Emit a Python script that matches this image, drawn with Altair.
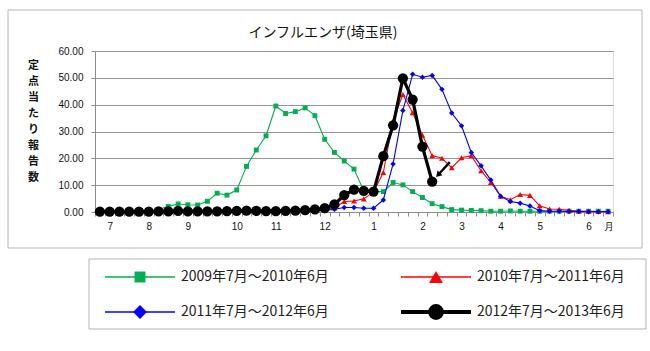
import json
import altair as alt
import pandas as pd

# ---------------- data ----------------
seasons = ["2009年7月～2010年6月", "2010年7月～2011年6月",
           "2011年7月～2012年6月", "2012年7月～2013年6月"]

s2009 = [0.1, 0.1, 0.1, 0.1, 0.2, 0.3, 0.9, 2.1, 3.0, 2.7,
         2.6, 4.0, 7.0, 6.3, 8.2, 17.0, 23.1, 28.4, 39.5, 36.7,
         37.4, 38.8, 35.9, 27.1, 22.2, 19.0, 16.0, 7.8, 7.6, 7.6,
         11.0, 10.1, 7.6, 5.4, 3.1, 2.0, 0.9, 0.7, 0.6, 0.5,
         0.3, 0.3, 0.4, 0.3, 0.3, 0.3, 0.3, 0.3, 0.3, 0.3,
         0.3, 0.3, 0.3]
s2010 = [0.0, 0.0, 0.0, 0.0, 0.0, 0.0, 0.0, 0.1, 0.1, 0.1,
         0.1, 0.1, 0.1, 0.1, 0.1, 0.1, 0.1, 0.2, 0.2, 0.3,
         0.4, 0.5, 0.8, 1.0, 1.5, 3.9, 4.1, 4.9, 7.5, 14.7,
         34.0, 43.8, 37.0, 28.6, 21.0, 20.0, 16.5, 20.2, 21.0, 15.4,
         11.0, 5.9, 4.6, 6.5, 6.2, 2.3, 1.1, 1.0, 0.6, 0.4,
         0.3, 0.2, 0.1]
s2011 = [0.0, 0.0, 0.0, 0.0, 0.0, 0.0, 0.0, 0.0, 0.0, 0.0,
         0.0, 0.0, 0.1, 0.1, 0.1, 0.1, 0.1, 0.1, 0.1, 0.2,
         0.2, 0.3, 0.3, 0.6, 1.0, 1.7, 1.7, 1.4, 1.4, 4.5,
         17.9, 37.8, 51.3, 50.2, 50.9, 45.7, 36.9, 32.1, 22.2, 17.2,
         11.9, 5.9, 3.9, 3.3, 2.2, 0.5, 0.3, 0.3, 0.2, 0.2,
         0.1, 0.1, 0.1]
s2012 = [0.1, 0.1, 0.1, 0.1, 0.1, 0.1, 0.2, 0.2, 0.4, 0.2,
         0.2, 0.2, 0.2, 0.3, 0.4, 0.5, 0.4, 0.3, 0.3, 0.4,
         0.5, 0.7, 1.0, 1.4, 2.8, 6.3, 8.3, 7.9, 7.6, 20.8,
         32.3, 49.8, 41.9, 24.4, 11.3]
series_values = [s2009, s2010, s2011, s2012]

# month label positions (week index) and texts
month_weeks = [1, 5, 9, 14, 18, 23, 28, 33, 37, 41, 45, 50, 52]
month_texts = ["7", "8", "9", "10", "11", "12", "1", "2", "3", "4", "5", "6", "月"]
n_weeks = 53

chart_title = "インフルエンザ(埼玉県)"
y_title = "定点当たり報告数"

# arrow annotation (data units)
arrow_week = [35.8, 34.6]
arrow_value = [18.6, 13.8]

# ---------------- styles ----------------
colors = ["#00b050", "#ff0000", "#0000ff", "#000000"]
shapes = ["square", "triangle-up", "diamond", "circle"]
point_sizes = [24, 34, 30, 105]
line_widths = [1.1, 1.1, 1.1, 3.2]
leg_sizes = [120, 190, 190, 250]
leg_widths = [1.6, 1.6, 1.6, 4.2]
GRID = "#9c9494"
AX = "#8c8c8c"
FONT = "Noto Sans CJK JP"

W, H = 518, 161
step = W / n_weeks

rows = []
for name, vals in zip(seasons, series_values):
    for w, v in enumerate(vals):
        rows.append({"season": name, "week": w, "value": v})
df = pd.DataFrame(rows)

labels = [""] * (n_weeks + 1)
for w, t in zip(month_weeks, month_texts):
    labels[w] = t
label_expr = json.dumps(labels, ensure_ascii=False) + "[round(datum.value + 0.5)]"

XS = alt.Scale(domain=[-0.5, n_weeks - 0.5], nice=False, zero=False)
YS = alt.Scale(domain=[0, 60], nice=False)
XA = alt.Axis(values=[w - 0.5 for w in range(n_weeks + 1)],
              labelExpr=label_expr, labelOffset=step / 2,
              labelOverlap=False, labelFlush=False, labelBound=False,
              grid=False, tickSize=4, tickColor=AX, domainColor=AX,
              labelPadding=5, labelFontSize=10, labelColor="#111",
              labelFont="Liberation Sans", title=None)
YA = alt.Axis(values=[0, 10, 20, 30, 40, 50, 60], format=".2f",
              grid=True, gridColor=GRID, gridWidth=1,
              tickSize=4, tickColor=AX, domainColor=AX,
              labelPadding=8, labelFontSize=10, labelColor="#111",
              labelFont="Liberation Sans",
              title=list(y_title), titleAngle=0,
              titleX=-62, titleY=8, titleAlign="center",
              titleBaseline="top", titleFontSize=11,
              titleFontWeight="bold", titleLineHeight=16,
              titleFont=FONT, titleColor="#111")
X = alt.X("week:Q", scale=XS, axis=XA)
Y = alt.Y("value:Q", scale=YS, axis=YA)

base = alt.Chart(df)
main_layers = []
for i, name in enumerate(seasons):
    sub = base.transform_filter(alt.datum.season == name)
    main_layers.append(sub.mark_line(color=colors[i], strokeWidth=line_widths[i]).encode(x=X, y=Y))
    main_layers.append(sub.mark_point(shape=shapes[i], filled=True, opacity=1,
                                      size=point_sizes[i], color=colors[i]).encode(x=X, y=Y))

arrow_df = pd.DataFrame({"week": [arrow_week[0]], "value": [arrow_value[0]],
                         "week2": [arrow_week[1]], "value2": [arrow_value[1]]})
arrow_rule = alt.Chart(arrow_df).mark_rule(color="#000", strokeWidth=2.4).encode(
    x=X, y=Y, x2="week2:Q", y2="value2:Q")
arrow_head = alt.Chart(arrow_df).mark_point(shape="triangle-up", filled=True, opacity=1,
                                            size=45, color="#000", angle=223).encode(
    x=alt.X("week2:Q", scale=XS, axis=XA),
    y=alt.Y("value2:Q", scale=YS, axis=YA))
main = alt.layer(*main_layers, arrow_rule, arrow_head)

# ---------------- legend (drawn through its own scales) ----------------
leg_df = pd.DataFrame({"name": seasons, "idx": list(range(4))})
LX = alt.Scale(domain=[0, W], nice=False, zero=False)
LY = alt.Scale(domain=[0, H], nice=False, zero=False, reverse=True)
leg = alt.Chart(leg_df).transform_calculate(
    col="datum.idx % 2", row="floor(datum.idx / 2)"
).transform_calculate(
    x0="10 + datum.col * 296", x1="80 + datum.col * 296",
    xm="45 + datum.col * 296", xt="86 + datum.col * 296",
    ly="226 + datum.row * 35"
)
leg_layers = []
for i, name in enumerate(seasons):
    sub = leg.transform_filter(alt.datum.name == name)
    leg_layers.append(sub.mark_rule(color=colors[i], strokeWidth=leg_widths[i]).encode(
        x=alt.X("x0:Q", scale=LX, axis=None), x2="x1:Q",
        y=alt.Y("ly:Q", scale=LY, axis=None)))
    leg_layers.append(sub.mark_point(shape=shapes[i], filled=True, opacity=1,
                                     size=leg_sizes[i], color=colors[i]).encode(
        x=alt.X("xm:Q", scale=LX, axis=None),
        y=alt.Y("ly:Q", scale=LY, axis=None)))
leg_txt = leg.mark_text(align="left", baseline="middle", fontSize=14, font=FONT,
                        color="#222").encode(
    x=alt.X("xt:Q", scale=LX, axis=None),
    y=alt.Y("ly:Q", scale=LY, axis=None),
    text="name:N")
legend = alt.layer(*leg_layers, leg_txt)

one = pd.DataFrame({"k": [0]})
frame = alt.Chart(one).mark_rect(fillOpacity=0, stroke="#b4b4b4", strokeWidth=1).encode(
    x=alt.value(-87), x2=alt.value(547), y=alt.value(-41), y2=alt.value(197))
leg_frame = alt.Chart(one).mark_rect(fillOpacity=0, stroke="#b4b4b4", strokeWidth=1).encode(
    x=alt.value(-6), x2=alt.value(551), y=alt.value(208), y2=alt.value(278))
title_txt = alt.Chart(pd.DataFrame({"t": [chart_title]})).mark_text(
    align="center", baseline="middle", fontSize=14, font=FONT, color="#111").encode(
    x=alt.value(228), y=alt.value(-18), text="t:N")

chart = alt.layer(frame, leg_frame, title_txt, main, legend).resolve_scale(
    x="independent", y="independent"
).properties(
    width=W, height=H,
    autosize=alt.AutoSizeParams(type="none"),
    padding={"left": 95, "top": 51, "right": 37, "bottom": 139},
).configure_view(stroke=None).configure(background="white")

chart.save("out.html", embed_options={"renderer": "svg", "actions": False})
